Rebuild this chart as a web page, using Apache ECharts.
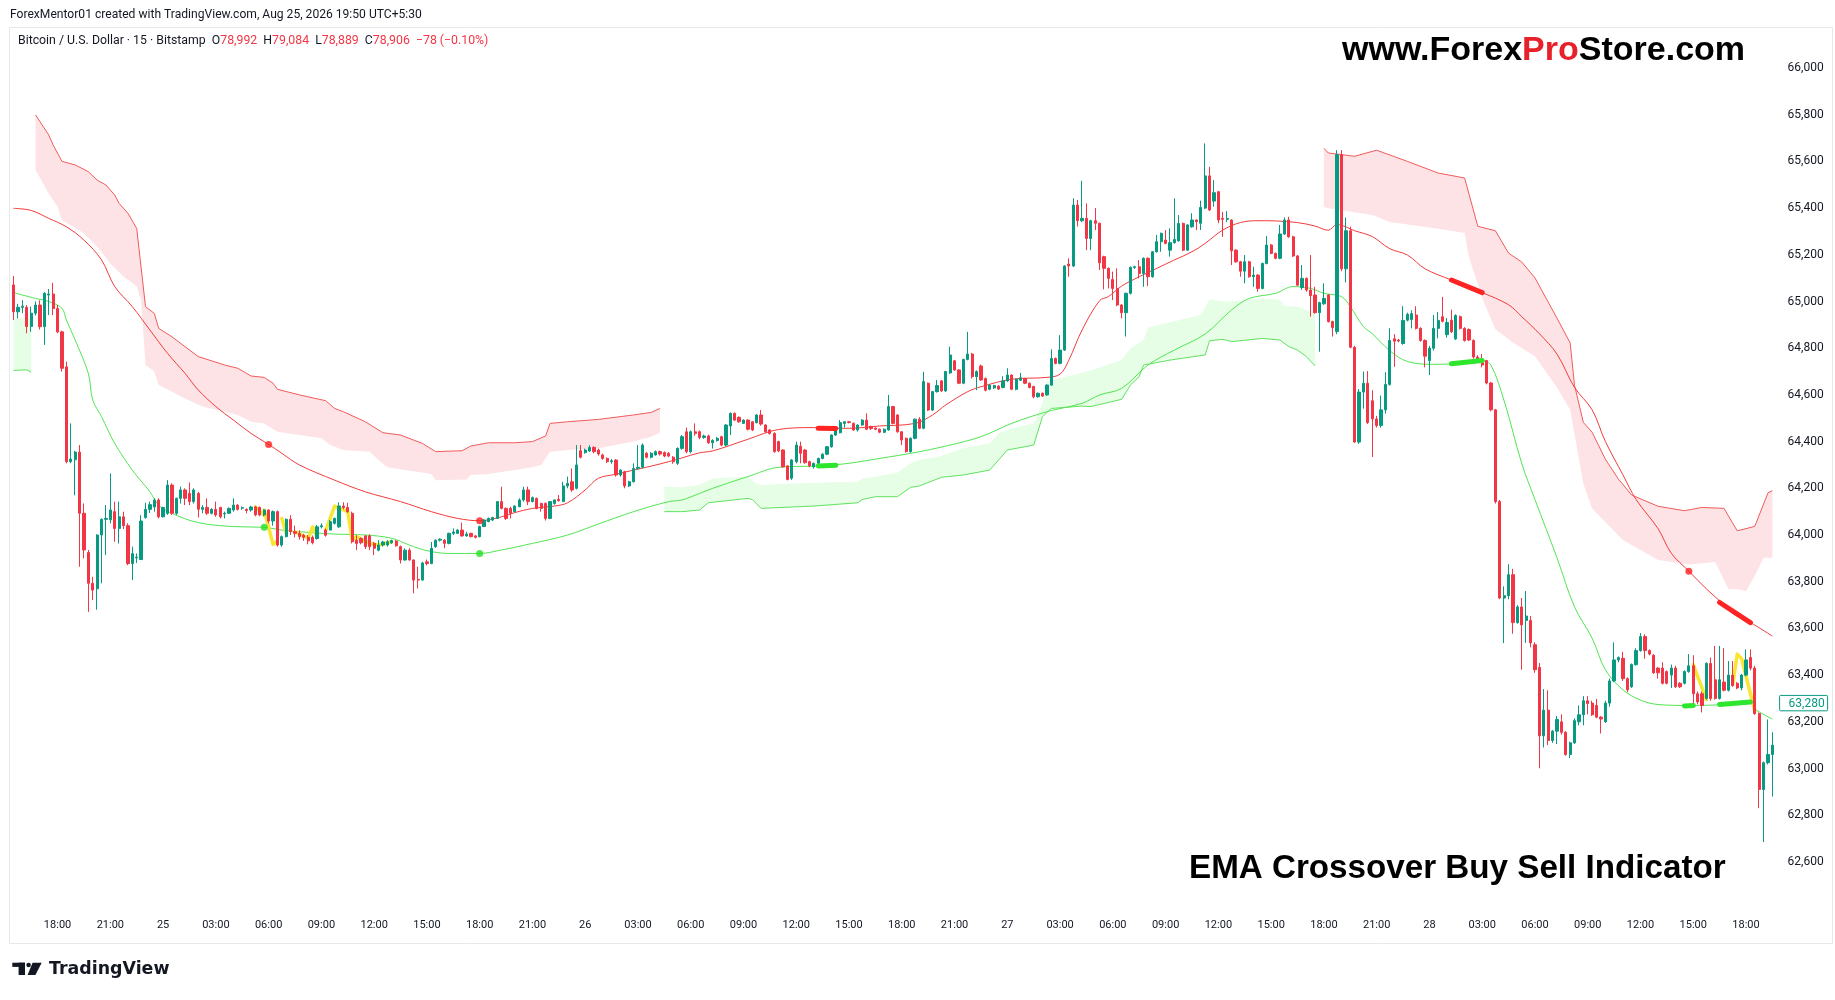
<!DOCTYPE html>
<html><head><meta charset="utf-8">
<script src="https://cdn.jsdelivr.net/npm/echarts/dist/echarts.min.js"></script>
<style>html,body{margin:0;padding:0;background:#fff}#c{width:1835px;height:1000px}</style>
</head><body><div id="c"></div>
<script>
// [open, close, low, high] per 15-minute candle, starting 24th 15:30
const candles = [
[65071,64956,64921,65109],[64956,64975,64928,64990],[64975,64980,64950,65006],[64975,64893,64864,64985],[64893,64950,64870,64978],
[64950,64985,64940,65000],[64985,64892,64880,65005],[64892,65035,64814,65040],[65028,65032,64942,65053],[65032,64970,64942,65080],
[64970,64870,64864,64985],[64870,64714,64700,64875],[64720,64314,64307,64742],[64314,64325,64307,64478],[64322,64355,64170,64360],
[64355,64093,63864,64385],[64093,63936,63900,64135],[63925,63793,63671,63936],[63793,63764,63721,63821],[63770,64000,63680,64003],
[64000,64067,63793,64071],[64067,64071,63914,64128],[64065,64107,64050,64264],[64100,64028,63971,64143],[64028,64078,63964,64143],
[64078,64040,64025,64100],[64040,63878,63871,64050],[63878,63920,63807,63950],[63902,63905,63880,63921],[63895,64060,63893,64085],
[64075,64110,64070,64138],[64110,64130,64095,64143],[64120,64150,64100,64157],[64150,64078,64071,64157],[64078,64118,64075,64121],
[64093,64214,64086,64235],[64214,64093,64086,64221],[64093,64157,64086,64160],[64157,64193,64135,64207],[64193,64157,64128,64200],
[64178,64143,64128,64225],[64143,64193,64135,64200],[64178,64110,64075,64185],[64110,64118,64093,64128],[64118,64093,64086,64157],
[64093,64110,64088,64115],[64110,64086,64078,64143],[64118,64078,64071,64121],[64090,64093,64071,64100],[64093,64114,64090,64118],
[64107,64128,64100,64157],[64128,64110,64105,64132],[64115,64117,64108,64122],[64110,64105,64093,64114],[64107,64120,64100,64125],
[64120,64086,64080,64125],[64118,64086,64080,64122],[64086,64107,64080,64110],[64107,64060,64050,64110],[64060,64100,64040,64105],
[64100,63957,63950,64105],[63957,63993,63950,63998],[63993,64067,63990,64071],[64067,64014,64000,64085],[64014,64007,63990,64040],
[64007,63993,63980,64020],[63999,63990,63975,64005],[63990,63975,63960,64000],[63990,63967,63960,63998],[63985,64035,63980,64043],
[64035,64040,64028,64050],[64021,63999,63993,64028],[64021,64057,64021,64064],[64050,64071,64045,64075],[64035,64124,64030,64140],
[64124,64118,64110,64140],[64118,64100,64095,64138],[64093,63971,63964,64100],[63978,63964,63935,63999],[63985,63967,63960,63990],
[63996,63950,63940,64000],[63996,63950,63935,64003],[63964,63943,63914,63970],[63935,63957,63930,63978],[63957,63970,63950,63975],
[63957,63971,63950,63978],[63967,63976,63962,63980],[63974,63954,63950,63978],[63950,63893,63878,63955],[63893,63935,63890,63943],
[63935,63893,63890,63943],[63893,63807,63750,63895],[63810,63807,63771,63864],[63807,63880,63805,63885],[63885,63878,63870,63895],
[63878,63943,63875,63970],[63950,63978,63945,63980],[63978,63982,63972,63986],[63978,63964,63943,63982],[63964,64007,63960,64010],
[64007,64013,64000,64028],[64007,64021,64005,64025],[64021,63996,63993,64053],[63996,64004,63993,64014],[64007,63993,63990,64010],
[63996,63990,63985,64000],[63993,64036,63990,64040],[64036,64064,64035,64068],[64057,64071,64055,64075],[64064,64075,64060,64078],
[64071,64143,64071,64145],[64143,64114,64110,64207],[64114,64071,64064,64118],[64114,64093,64071,64121],[64100,64124,64098,64127],
[64121,64150,64121,64157],[64150,64193,64143,64207],[64193,64143,64128,64207],[64143,64160,64140,64165],[64157,64114,64110,64160],
[64135,64114,64100,64138],[64135,64071,64062,64140],[64071,64143,64068,64145],[64135,64150,64130,64152],[64153,64147,64143,64171],
[64143,64210,64143,64228],[64210,64221,64200,64250],[64228,64193,64185,64285],[64200,64300,64195,64385],[64361,64333,64328,64385],
[64353,64364,64348,64370],[64360,64375,64355,64385],[64375,64357,64350,64380],[64364,64347,64340,64370],[64343,64328,64322,64348],
[64328,64314,64308,64332],[64314,64318,64305,64325],[64321,64257,64250,64325],[64257,64278,64250,64282],[64271,64210,64200,64275],
[64210,64228,64205,64232],[64228,64285,64225,64307],[64285,64290,64280,64385],[64290,64385,64285,64392],[64350,64333,64328,64356],
[64333,64350,64328,64355],[64343,64357,64340,64362],[64357,64347,64340,64362],[64353,64338,64333,64358],[64350,64338,64333,64355],
[64333,64314,64305,64338],[64307,64371,64300,64375],[64371,64421,64365,64428],[64442,64357,64350,64460],[64357,64442,64350,64448],
[64442,64435,64425,64478],[64442,64418,64410,64448],[64418,64424,64412,64430],[64424,64395,64390,64430],[64395,64405,64370,64410],
[64405,64414,64400,64420],[64421,64385,64380,64425],[64385,64471,64380,64475],[64467,64521,64428,64525],[64521,64492,64488,64525],
[64504,64485,64480,64508],[64478,64492,64475,64495],[64492,64453,64448,64496],[64485,64450,64445,64488],[64481,64514,64478,64518],
[64514,64475,64468,64535],[64471,64442,64438,64475],[64450,64435,64430,64453],[64435,64357,64352,64440],[64400,64360,64355,64404],
[64364,64292,64288,64368],[64296,64238,64234,64300],[64243,64321,64236,64325],[64314,64385,64307,64400],[64380,64350,64307,64400],
[64364,64310,64305,64368],[64314,64296,64290,64318],[64292,64307,64285,64310],[64307,64328,64303,64331],[64328,64346,64324,64350],
[64346,64378,64342,64381],[64378,64428,64374,64431],[64428,64453,64424,64456],[64438,64481,64435,64492],[64478,64485,64460,64488],
[64485,64482,64478,64488],[64478,64450,64446,64482],[64450,64471,64443,64474],[64471,64492,64468,64496],[64492,64453,64449,64521],
[64465,64456,64450,64468],[64458,64453,64449,64461],[64453,64440,64436,64456],[64440,64453,64437,64456],[64450,64550,64447,64600],
[64550,64478,64474,64553],[64514,64442,64438,64517],[64442,64407,64385,64445],[64414,64357,64353,64417],[64357,64414,64353,64418],
[64414,64496,64410,64499],[64496,64457,64453,64505],[64457,64657,64453,64699],[64650,64535,64531,64653],[64535,64614,64531,64617],
[64614,64640,64610,64664],[64660,64617,64613,64663],[64617,64700,64613,64703],[64694,64771,64690,64807],[64746,64707,64703,64750],
[64707,64650,64646,64710],[64650,64752,64646,64755],[64752,64775,64748,64870],[64775,64678,64670,64780],[64678,64700,64620,64705],
[64724,64664,64660,64730],[64670,64620,64615,64675],[64624,64642,64620,64645],[64630,64640,64626,64643],[64638,64625,64621,64641],
[64632,64660,64628,64680],[64660,64685,64656,64714],[64685,64624,64620,64688],[64624,64667,64620,64670],[64663,64673,64659,64694],
[64670,64650,64646,64673],[64650,64632,64628,64653],[64636,64592,64585,64639],[64592,64607,64588,64610],[64607,64595,64591,64610],
[64600,64642,64596,64645],[64642,64756,64638,64795],[64756,64735,64731,64760],[64735,64792,64731,64856],[64792,65152,64788,65155],
[65160,65152,65106,65185],[65152,65413,65148,65442],[65413,65346,65321,65435],[65346,65356,65340,65517],[65356,65270,65220,65420],
[65270,65346,65220,65350],[65346,65335,65306,65400],[65335,65166,65135,65338],[65192,65142,65052,65196],[65142,65099,65056,65146],
[65094,65056,65006,65128],[65056,64985,64980,65142],[64985,64952,64928,64988],[64952,65035,64850,65038],[65035,65146,65030,65150],
[65146,65149,65140,65153],[65149,65120,65099,65177],[65120,65185,65063,65189],[65185,65106,65066,65189],[65106,65213,65102,65216],
[65213,65256,65209,65285],[65256,65292,65213,65295],[65263,65249,65245,65306],[65220,65252,65192,65313],[65252,65266,65248,65442],
[65260,65334,65256,65370],[65334,65220,65216,65338],[65220,65328,65216,65331],[65320,65349,65316,65378],[65349,65342,65306,65352],
[65335,65403,65306,65432],[65400,65538,65396,65677],[65538,65392,65388,65577],[65430,65466,65406,65520],[65470,65349,65335,65474],
[65356,65352,65277,65384],[65352,65356,65340,65387],[65349,65217,65156,65352],[65220,65170,65166,65224],[65170,65130,65106,65174],
[65130,65170,65078,65199],[65170,65106,65102,65174],[65106,65113,65063,65149],[65113,65056,65042,65117],[65056,65163,65052,65166],
[65163,65242,65159,65280],[65242,65206,65202,65246],[65206,65185,65181,65210],[65185,65289,65181,65328],[65289,65349,65285,65360],
[65349,65277,65273,65363],[65277,65195,65191,65281],[65195,65070,65066,65199],[65060,65099,65050,65156],[65099,65049,65042,65103],
[65049,65025,64935,65199],[65028,64952,64948,65063],[64952,64995,64785,64999],[64990,65013,64986,65078],[65028,64914,64910,65032],
[64914,64888,64850,64918],[64871,65629,64860,65648],[65629,65140,65130,65648],[65140,65303,65082,65360],[65303,64804,64800,65320],
[64804,64398,64395,64810],[64398,64612,64390,64625],[64612,64650,64541,64700],[64650,64482,64475,64702],[64575,64497,64334,64620],
[64497,64469,64460,64510],[64469,64536,64460,64597],[64536,64645,64520,64697],[64645,64833,64640,64885],[64840,64830,64720,64860],
[64835,64831,64825,64840],[64820,64919,64815,64980],[64920,64945,64915,64952],[64923,64948,64885,64962],[64942,64885,64880,64980],
[64885,64833,64828,64890],[64833,64766,64718,64838],[64747,64800,64685,64810],[64800,64885,64790,64942],[64885,64919,64842,64955],
[64935,64915,64910,65020],[64858,64910,64845,64930],[64920,64870,64865,64965],[64840,64940,64835,64945],[64935,64885,64880,64940],
[64885,64833,64828,64890],[64880,64835,64830,64885],[64833,64762,64755,64838],[64762,64743,64738,64770],[64747,64728,64718,64775],
[64747,64651,64645,64750],[64651,64536,64530,64655],[64536,64143,64135,64540],[64143,63730,63725,64150],[63730,63740,63537,63780],
[63740,63830,63725,63875],[63830,63625,63577,63855],[63625,63692,63620,63700],[63692,63615,63423,63730],[63634,63653,63538,63760],
[63634,63538,63519,63653],[63530,63423,63410,63540],[63433,63140,63001,63452],[63140,63250,63090,63340],[63250,63120,63100,63335],
[63120,63160,63110,63165],[63160,63210,63105,63225],[63200,63155,63145,63232],[63155,63060,63055,63160],[63060,63110,63045,63115],
[63110,63205,63105,63215],[63200,63230,63185,63270],[63230,63290,63185,63310],[63290,63278,63232,63310],[63280,63230,63225,63290],
[63270,63220,63215,63298],[63220,63212,63150,63225],[63200,63280,63195,63290],[63280,63375,63265,63385],[63375,63465,63370,63540],
[63465,63475,63455,63480],[63472,63385,63375,63500],[63385,63337,63327,63390],[63350,63445,63345,63450],[63445,63505,63440,63515],
[63505,63565,63500,63580],[63565,63505,63470,63575],[63505,63490,63485,63510],[63485,63410,63405,63490],[63430,63410,63385,63435],
[63430,63365,63360,63455],[63415,63365,63360,63420],[63400,63430,63345,63445],[63430,63350,63345,63440],[63365,63350,63345,63370],
[63365,63415,63360,63420],[63415,63440,63410,63490],[63440,63320,63270,63485],[63320,63285,63275,63330],[63320,63270,63240,63330],
[63300,63450,63295,63455],[63450,63300,63290,63475],[63380,63300,63295,63525],[63300,63380,63295,63525],[63370,63335,63330,63515],
[63335,63400,63330,63460],[63400,63355,63350,63460],[63365,63345,63340,63370],[63345,63400,63335,63405],[63400,63465,63395,63510],
[63475,63430,63420,63510],[63430,63235,63230,63440],[63235,62910,62830,63240],[62910,63025,62685,63030],[63025,63060,63017,63210],
[63060,63100,62880,63155]
];

// slow EMA (red) and fast EMA (green), [candle index, price]
const redLine = [[0,65399],[4,65390],[8,65356],[12,65320],[16,65263],[20,65178],[23,65064],[27,64978],[31,64878],[35,64778],[39,64692],[42,64621],[46,64550],[50,64492],[54,64435],[58,64388],[61,64350],[65,64300],[73,64235],[80,64185],[88,64143],[95,64100],[101,64071],[106,64061],[111,64078],[114,64096],[118,64114],[123,64124],[126,64138],[130,64193],[133,64243],[137,64260],[141,64278],[145,64295],[149,64314],[152,64330],[156,64352],[159,64360],[167,64410],[174,64452],[182,64460],[186,64457],[190,64457],[197,64467],[205,64478],[209,64514],[212,64557],[217,64614],[220,64635],[227,64667],[235,64675],[238,64689],[240,64749],[243,64878],[247,65004],[249,65021],[252,65066],[256,65106],[260,65142],[264,65178],[268,65213],[271,65249],[275,65306],[279,65338],[283,65346],[287,65345],[292,65338],[296,65323],[299,65305],[301,65330],[305,65303],[309,65278],[313,65226],[317,65199],[321,65140],[327,65092],[334,65038],[340,64986],[343,64935],[347,64862],[351,64775],[355,64632],[359,64536],[362,64401],[366,64258],[369,64152],[374,64027],[377,63922],[381,63845],[385,63769],[389,63701],[391,63663],[395,63625],[400,63567]];
const greenLine = [[0,65038],[5,65013],[8,65000],[11,64971],[12,64921],[14,64835],[17,64692],[18,64578],[20,64507],[23,64392],[27,64278],[31,64185],[33,64128],[36,64093],[42,64053],[50,64036],[57,64033],[61,64021],[65,64014],[73,64004],[80,64000],[86,63986],[90,63957],[94,63933],[99,63921],[106,63921],[111,63936],[118,63964],[126,64000],[133,64047],[141,64100],[149,64143],[152,64150],[156,64178],[159,64200],[167,64250],[174,64290],[182,64295],[185,64298],[190,64307],[197,64328],[205,64353],[212,64381],[220,64421],[227,64478],[235,64528],[243,64564],[247,64600],[252,64628],[258,64728],[264,64792],[271,64861],[277,64964],[281,65013],[287,65035],[291,65064],[295,65056],[298,65035],[302,65021],[304,64978],[307,64892],[309,64862],[313,64789],[317,64743],[323,64731],[327,64733],[334,64747],[336,64727],[339,64574],[343,64306],[346,64152],[351,63903],[355,63692],[359,63558],[362,63423],[366,63337],[370,63293],[374,63274],[381,63270],[389,63274],[395,63285],[396,63255],[400,63212]];

// trend cloud: green segments (lower edge drawn) and pink segments (upper edge drawn)
const greenBand1Upper = [[0,64928],[4,64928]];
const greenBand1Lower = [[0,64705],[3,64707],[4,64697]];
const pinkBand1Upper = [[5,65799],[8,65713],[9,65670],[11,65600],[14,65585],[17,65556],[19,65520],[21,65499],[23,65456],[24,65420],[26,65378],[28,65313],[30,64978],[32,64949],[33,64885],[36,64849],[42,64764],[48,64728],[51,64714],[54,64681],[57,64675],[59,64650],[60,64624],[65,64600],[71,64575],[73,64542],[75,64528],[80,64485],[84,64438],[88,64428],[93,64392],[96,64357],[102,64361],[104,64381],[108,64395],[114,64395],[118,64400],[121,64424],[122,64478],[126,64485],[133,64495],[141,64514],[145,64525],[147,64542]];
const pinkBand1Lower = [[5,65563],[8,65463],[10,65406],[11,65349],[16,65292],[19,65235],[22,65163],[25,65107],[28,65064],[29,65006],[30,64728],[32,64700],[33,64642],[39,64585],[43,64550],[48,64528],[51,64514],[54,64485],[57,64478],[60,64442],[65,64428],[70,64414],[72,64385],[75,64364],[81,64357],[83,64321],[85,64290],[95,64261],[96,64235],[103,64238],[104,64257],[108,64261],[118,64290],[120,64300],[122,64357],[126,64364],[133,64371],[141,64400],[145,64421],[147,64438]];
const greenBand2Upper = [[148,64207],[152,64204],[156,64214],[159,64242],[167,64250],[169,64218],[170,64214],[182,64224],[192,64228],[193,64242],[196,64250],[201,64267],[204,64307],[206,64321],[211,64338],[216,64371],[222,64392],[224,64435],[227,64457],[232,64478],[234,64564],[235,64657],[238,64671],[245,64704],[252,64749],[254,64799],[257,64835],[258,64889],[270,64942],[272,65009],[276,64999],[284,65013],[288,65006],[289,64981],[292,64978],[296,64952]];
const greenBand2Lower = [[148,64100],[152,64100],[156,64107],[158,64138],[167,64157],[168,64152],[170,64114],[182,64124],[192,64138],[193,64152],[196,64164],[201,64164],[204,64204],[206,64210],[211,64247],[216,64257],[222,64278],[224,64321],[226,64364],[232,64385],[234,64507],[236,64542],[243,64552],[245,64550],[252,64581],[254,64642],[256,64678],[257,64728],[263,64749],[271,64771],[272,64832],[275,64838],[277,64828],[284,64842],[288,64835],[290,64807],[292,64792],[294,64764],[296,64724]];
const pinkBand2Upper = [[298,65656],[299,65636],[305,65622],[310,65648],[317,65600],[324,65550],[330,65529],[333,65322],[337,65303],[340,65207],[343,65169],[346,65101],[351,64929],[354,64823],[355,64641],[357,64482],[359,64440],[362,64325],[365,64239],[368,64171],[374,64123],[380,64104],[384,64118],[389,64114],[392,64018],[396,64037],[399,64181],[400,64190]];
const pinkBand2Lower = [[298,65406],[299,65399],[309,65370],[313,65341],[324,65312],[330,65293],[331,65188],[334,65015],[337,64881],[341,64823],[346,64766],[351,64632],[354,64536],[357,64219],[359,64114],[362,64056],[366,63979],[374,63893],[381,63874],[387,63884],[390,63769],[392,63769],[394,63759],[396,63826],[398,63903],[400,63903]];

// yellow highlight trace drawn behind candles near the fast EMA
const yellowTraces = [
  [[55,64120],[57,64085]],
  [[57,64107],[59,63960],[60,63975]],
  [[61,64071],[62,64007]],
  [[64,64014],[67,63986],[68,64035],[69,63993]],
  [[71,64021],[73,64124],[76,64100],[77,63978],[78,63993],[81,63964],[83,63957],[86,63971]],
  [[382,63445],[385,63295]],
  [[391,63360],[392,63490],[393,63470],[396,63245]]
];

// crossover markers
const redDots = [[58,64388],[106,64061],[381,63845]];
const greenDots = [[57,64033],[106,63921]];
const redThick = [[[183,64457],[187,64456]],[[327,65092],[334,65038]],[[388,63711],[395,63625]]];
const greenThick = [[[183,64296],[187,64299]],[[327,64733],[334,64747]],[[380,63268],[382,63270]],[[388,63274],[395,63285]]];

const priceLabel = 63280;
const startDay = 24, startMinute = 15 * 60 + 30, stepMinutes = 15;
const tickEveryHours = 3;

const categories = candles.map((_, i) => {
  const t = startMinute + i * stepMinutes;
  const d = startDay + Math.floor(t / 1440);
  const m = t % 1440;
  return d + ' ' + String(Math.floor(m / 60)).padStart(2, '0') + ':' + String(m % 60).padStart(2, '0');
});

const UP = '#089981', DOWN = '#f23645';
const FONT = 'Roboto, "Liberation Sans", sans-serif';

const chart = echarts.init(document.getElementById('c'), null, {renderer: 'canvas'});

function band(upper, lower, fill) {
  return {
    type: 'custom', coordinateSystem: 'cartesian2d', silent: true, z: 1, clip: true,
    data: [[upper[0][0], upper[0][1]]],
    renderItem: (params, api) => {
      const pts = upper.map(p => api.coord(p)).concat(lower.slice().reverse().map(p => api.coord(p)));
      return {type: 'polygon', shape: {points: pts}, style: {fill: fill}};
    }
  };
}
function edge(data, color) {
  return {type: 'line', data: data, showSymbol: false, silent: true, z: 2,
    lineStyle: {color: color, width: 1}};
}
const PINK = 'rgba(242,54,69,0.14)', LGREEN = 'rgba(60,240,60,0.13)';

const series = [
  band(greenBand1Upper, greenBand1Lower, LGREEN),
  band(pinkBand1Upper, pinkBand1Lower, PINK),
  band(greenBand2Upper, greenBand2Lower, LGREEN),
  band(pinkBand2Upper, pinkBand2Lower, PINK),
  edge(greenBand1Lower, '#5fe35f'),
  edge(pinkBand1Upper, '#f25b5b'),
  edge(greenBand2Lower, '#5fe35f'),
  edge(pinkBand2Upper, '#f25b5b'),
  {type: 'line', data: redLine, showSymbol: false, silent: true, smooth: 0.35, z: 3,
    lineStyle: {color: '#f23c3c', width: 1}},
  {type: 'line', data: greenLine, showSymbol: false, silent: true, smooth: 0.35, z: 3,
    lineStyle: {color: '#52e552', width: 1}},
  {
    type: 'candlestick', z: 5, barWidth: '62%',
    data: candles,
    itemStyle: {color: UP, color0: DOWN, borderColor: UP, borderColor0: DOWN, borderWidth: 1}
  },
  {type: 'scatter', data: redDots, symbolSize: 7, z: 6, silent: true, itemStyle: {color: '#ff1f1f'}},
  {type: 'scatter', data: greenDots, symbolSize: 7, z: 6, silent: true, itemStyle: {color: '#22e022'}}
];
yellowTraces.forEach(seg => series.push({type: 'line', data: seg, showSymbol: false, silent: true, z: 4,
  lineStyle: {color: '#f7e733', width: 3.5, join: 'round', cap: 'round'}}));
redThick.forEach(seg => series.push({type: 'line', data: seg, showSymbol: false, silent: true, z: 6,
  lineStyle: {color: '#ff2424', width: 5, cap: 'round'}}));
greenThick.forEach(seg => series.push({type: 'line', data: seg, showSymbol: false, silent: true, z: 6,
  lineStyle: {color: '#2ee62e', width: 5, cap: 'round'}}));

const baseGraphic = [
  {type: 'rect', silent: true, z: -10, shape: {x: 9.5, y: 27.5, width: 1823, height: 916},
    style: {fill: 'none', stroke: '#e6e8ee', lineWidth: 1}},
  {type: 'text', x: 10, y: 15, silent: true,
    style: {text: 'ForexMentor01 created with TradingView.com, Aug 25, 2026 19:50 UTC+5:30',
      font: '12.1px ' + FONT, fill: '#131722', verticalAlign: 'middle'}},
  {type: 'text', x: 18, y: 41, silent: true,
    style: {
      text: '{a|Bitcoin / U.S. Dollar · 15 · Bitstamp  O}{r|78,992}{a|  H}{r|79,084}{a|  L}{r|78,889}{a|  C}{r|78,906}{r|  −78 (−0.10%)}',
      verticalAlign: 'middle',
      rich: {a: {fill: '#131722', fontSize: 12.3, fontFamily: FONT}, r: {fill: '#f23645', fontSize: 12.3, fontFamily: FONT}}
    }},
  {type: 'text', x: 1342, y: 51, silent: true, z: 20,
    style: {
      text: '{k|www.Forex}{p|Pro}{k|Store.com}', verticalAlign: 'middle',
      rich: {
        k: {fill: '#000000', fontSize: 34, fontWeight: 'bold', fontFamily: '"Liberation Sans", Arial, sans-serif'},
        p: {fill: '#e8202a', fontSize: 34, fontWeight: 'bold', fontFamily: '"Liberation Sans", Arial, sans-serif'}
      }
    }},
  {type: 'text', x: 1189, y: 869, silent: true, z: 20,
    style: {text: 'EMA Crossover Buy Sell Indicator', fill: '#000000', verticalAlign: 'middle',
      font: 'bold 33.2px "Liberation Sans", Arial, sans-serif'}},
  // TradingView logo mark
  {type: 'rect', silent: true, shape: {x: 12.3, y: 962.7, width: 12.7, height: 4.2}, style: {fill: '#131722'}},
  {type: 'rect', silent: true, shape: {x: 18.6, y: 962.7, width: 6.4, height: 12.3}, style: {fill: '#131722'}},
  {type: 'circle', silent: true, shape: {cx: 28.6, cy: 965, r: 2.3}, style: {fill: '#131722'}},
  {type: 'polygon', silent: true, shape: {points: [[32.6, 962.7], [41.7, 962.7], [35.4, 975], [27.6, 975]]}, style: {fill: '#131722'}},
  {type: 'text', x: 49, y: 969.5, silent: true,
    style: {text: 'TradingView', fill: '#131722', verticalAlign: 'middle',
      font: 'bold 17.4px "DejaVu Sans", sans-serif'}}
];

chart.setOption({
  animation: false,
  backgroundColor: '#ffffff',
  textStyle: {fontFamily: FONT},
  grid: {left: 11.4, right: 60.4, top: 21.3, bottom: 91.4, containLabel: false},
  xAxis: {
    type: 'category', data: categories, boundaryGap: true,
    axisLine: {show: false}, axisTick: {show: false}, splitLine: {show: false},
    axisLabel: {
      margin: 11.5, color: '#131722', fontSize: 11, fontFamily: FONT,
      interval: (idx, val) => {
        const hm = val.split(' ')[1].split(':').map(Number);
        return hm[1] === 0 && hm[0] % tickEveryHours === 0;
      },
      formatter: val => {
        const parts = val.split(' ');
        return parts[1] === '00:00' ? parts[0] : parts[1];
      }
    }
  },
  yAxis: {
    type: 'value', position: 'right', min: 62400, max: 66200, interval: 200, scale: true,
    axisLine: {show: false}, axisTick: {show: false}, splitLine: {show: false},
    axisLabel: {margin: 13, color: '#131722', fontSize: 12, fontFamily: FONT,
      showMinLabel: false, showMaxLabel: false,
      formatter: v => v.toLocaleString('en-US')}
  },
  series: series,
  graphic: baseGraphic
});

// current-price tag on the price scale, placed through the chart's own y scale
const tagY = chart.convertToPixel({yAxisIndex: 0}, priceLabel);
const gridRight = 1835 - 60.4;
chart.setOption({
  graphic: baseGraphic.concat([
    {type: 'rect', silent: true, z: 30, shape: {x: gridRight + 5, y: tagY - 7.7, width: 48, height: 15.4, r: 1},
      style: {fill: '#ffffff', stroke: UP, lineWidth: 1}},
    {type: 'text', silent: true, z: 31, x: gridRight + 14, y: tagY + 0.5,
      style: {text: priceLabel.toLocaleString('en-US'), fill: UP, verticalAlign: 'middle', font: '12px ' + FONT}}
  ])
}, {replaceMerge: ['graphic']});
</script>
</body></html>
